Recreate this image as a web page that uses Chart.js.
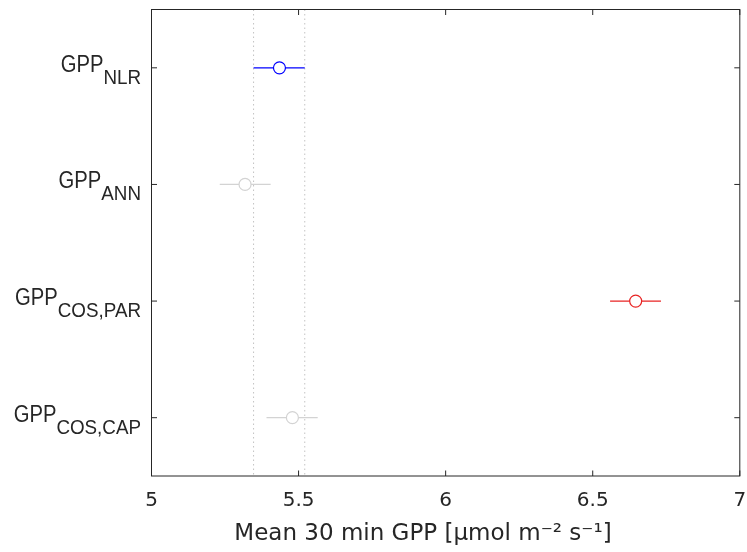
<!DOCTYPE html>
<html>
<head>
<meta charset="utf-8">
<script src="https://cdn.jsdelivr.net/npm/chart.js@4.4.0/dist/chart.umd.min.js"></script>
<style>
    html, body { margin: 0; padding: 0; background: #fff; }
    #wrap { width: 747px; height: 552px; }
</style>
</head>
<body>
<div id="wrap"><canvas id="chart"></canvas></div>
<script>
// 行ラベル (主記号 + 下付き文字)
const labelMain = ["GPP", "GPP", "GPP", "GPP"];
const labelSub = ["NLR", "ANN", "COS,PAR", "COS,CAP"];
// 平均値と誤差範囲 [µmol m-2 s-1]
const meanGpp = [5.435, 5.318, 6.646, 5.479];
const lowGpp = [5.347, 5.232, 6.559, 5.391];
const highGpp = [5.521, 5.405, 6.732, 5.565];
const rowColors = ["rgb(0,0,255)", "rgb(211,211,211)", "rgb(232,35,35)", "rgb(211,211,211)"];
const xTicks = [5, 5.5, 6, 6.5, 7];
const xTickLabels = ["5", "5.5", "6", "6.5", "7"];
const xTitle = "Mean 30 min GPP [µmol m⁻² s⁻¹]";

const AXIS_COLOR = "#262626";

/**
 * 枠線・内向き目盛り・下付きラベル・x 軸タイトルを描くプラグイン
 */
const frameAndLabels = {
    id: "frameAndLabels",
    afterDraw(chart) {
        const { ctx, chartArea: a, scales: { x, y } } = chart;
        ctx.save();
        ctx.strokeStyle = AXIS_COLOR;
        ctx.lineWidth = 1;
        ctx.strokeRect(a.left, a.top, a.right - a.left, a.bottom - a.top);

        const len = 5.5;
        ctx.beginPath();
        xTicks.forEach(v => {
            const px = x.getPixelForValue(v);
            ctx.moveTo(px, a.bottom); ctx.lineTo(px, a.bottom - len);
            ctx.moveTo(px, a.top); ctx.lineTo(px, a.top + len);
        });
        labelSub.forEach((s, i) => {
            const py = y.getPixelForValue(i + 1);
            ctx.moveTo(a.left, py); ctx.lineTo(a.left + len, py);
            ctx.moveTo(a.right, py); ctx.lineTo(a.right - len, py);
        });
        ctx.stroke();

        // GPP_xxx のラベル (少し横に詰めた Helvetica 風)
        const mainFont = "23px 'Liberation Sans', Arial, sans-serif";
        const subFont = "20px 'Liberation Sans', Arial, sans-serif";
        const mainScale = 0.88, subScale = 0.94;
        const rightEdge = 141;
        ctx.fillStyle = AXIS_COLOR;
        ctx.textBaseline = "alphabetic";
        ctx.textAlign = "left";
        labelSub.forEach((sub, i) => {
            const py = y.getPixelForValue(i + 1);
            ctx.font = subFont;
            const subW = ctx.measureText(sub).width * subScale;
            ctx.font = mainFont;
            const mainW = ctx.measureText(labelMain[i]).width * mainScale;
            const x0 = rightEdge - subW - mainW;

            ctx.save();
            ctx.translate(x0, py + 4);
            ctx.scale(mainScale, 1);
            ctx.font = mainFont;
            ctx.fillText(labelMain[i], 0, 0);
            ctx.restore();

            ctx.save();
            ctx.translate(x0 + mainW, py + 16);
            ctx.scale(subScale, 1);
            ctx.font = subFont;
            ctx.fillText(sub, 0, 0);
            ctx.restore();
        });

        // x 軸タイトル (元図では軸中心より少し左寄り)
        ctx.font = "23px 'DejaVu Sans'";
        ctx.textAlign = "center";
        ctx.fillText(xTitle, 423, 540);
        ctx.restore();
    }
};

// 誤差棒 (各行ごとに 2 点の線)
const errorSets = labelSub.map((s, i) => ({
    type: "line",
    data: [{ x: lowGpp[i], y: i + 1 }, { x: highGpp[i], y: i + 1 }],
    borderColor: rowColors[i],
    borderWidth: 1.3,
    pointRadius: 0,
    order: 2,
}));

// NLR の範囲を示す点線
const guideSets = [lowGpp[0], highGpp[0]].map(v => ({
    type: "line",
    data: [{ x: v, y: 0.5 }, { x: v, y: 4.5 }],
    borderColor: "rgb(195,195,195)",
    borderWidth: 1,
    borderDash: [1.5, 3],
    pointRadius: 0,
    order: 3,
}));

const meanSet = {
    type: "scatter",
    data: meanGpp.map((v, i) => ({ x: v, y: i + 1 })),
    pointStyle: "circle",
    pointRadius: 6,
    pointBorderWidth: 1.2,
    pointBackgroundColor: "#fff",
    pointBorderColor: rowColors,
    order: 1,
};

new Chart(document.getElementById("chart").getContext("2d"), {
    type: "scatter",
    data: { datasets: [meanSet, ...errorSets, ...guideSets] },
    options: {
        responsive: true,
        maintainAspectRatio: false,
        animation: false,
        layout: { padding: { top: 9.5, right: 6, left: 0, bottom: 0 } },
        plugins: {
            legend: { display: false },
            tooltip: { enabled: false },
        },
        scales: {
            x: {
                type: "linear",
                min: 5,
                max: 7,
                afterBuildTicks: scale => {
                    scale.ticks = xTicks.map(v => ({ value: v }));
                },
                ticks: {
                    callback: (v) => xTickLabels[xTicks.indexOf(v)],
                    color: AXIS_COLOR,
                    font: { family: "'DejaVu Sans'", size: 20 },
                    padding: 13,
                    maxRotation: 0,
                },
                grid: { display: false, drawTicks: false },
                border: { display: false },
                afterFit: scale => {
                    scale.height = 76;
                    scale.paddingLeft = 0;
                    scale.paddingRight = 0;
                },
            },
            y: {
                type: "linear",
                min: 0.5,
                max: 4.5,
                reverse: true,
                ticks: { display: false },
                grid: { display: false },
                border: { display: false },
                afterFit: scale => { scale.width = 151.5; },
            },
        },
    },
    plugins: [frameAndLabels],
});
</script>
</body>
</html>
